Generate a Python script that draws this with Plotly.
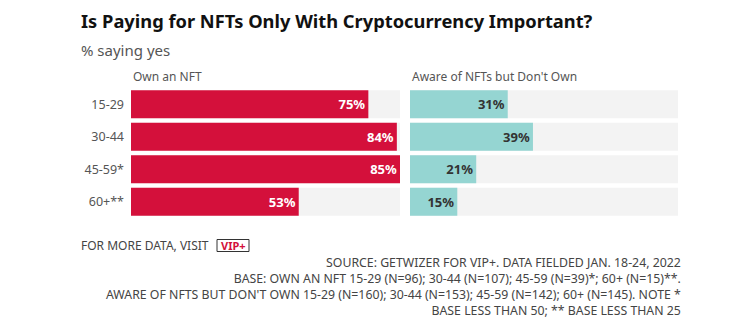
import plotly.graph_objects as go

categories = ["15-29", "30-44", "45-59*", "60+**"]
own_nft = [75, 84, 85, 53]
aware_not_own = [31, 39, 21, 15]
panel_titles = ["Own an NFT", "Aware of NFTs but Don't Own"]

W, H = 730, 326
FONT = "Noto Sans"
RED = "#D4103B"
TEAL = "#95D5D2"
TRACK = "#F3F3F3"

track_max = max(own_nft + aware_not_own)

def px_x(x):
    return x / W

def px_y(y):
    return 1 - y / H

fig = go.Figure()

panels = [
    (own_nft, RED, "white", "x", "y"),
    (aware_not_own, TEAL, "#333333", "x2", "y2"),
]

for vals, color, tcolor, xa, ya in panels:
    fig.add_trace(go.Bar(
        y=categories, x=[track_max] * len(categories), orientation="h",
        marker=dict(color=TRACK, line=dict(width=0)), xaxis=xa, yaxis=ya,
        hoverinfo="skip", showlegend=False,
    ))
    fig.add_trace(go.Bar(
        y=categories, x=vals, orientation="h",
        marker=dict(color=color, line=dict(width=0)), xaxis=xa, yaxis=ya,
        text=[f"{v}%" for v in vals], textposition="inside",
        insidetextanchor="end", textangle=0,
        textfont=dict(family=FONT, size=13, color=tcolor, weight="bold"),
        showlegend=False,
    ))

ydom = [px_y(218), px_y(88)]
axis_common = dict(showgrid=False, zeroline=False, showticklabels=False, range=[0, track_max], fixedrange=True)
fig.update_layout(
    width=W, height=H,
    margin=dict(l=0, r=0, t=0, b=0),
    paper_bgcolor="white", plot_bgcolor="white",
    barmode="overlay", bargap=0.14,
    font=dict(family=FONT, color="#555555"),
    xaxis=dict(domain=[px_x(131), px_x(400)], **axis_common),
    xaxis2=dict(domain=[px_x(410), px_x(678)], **axis_common),
    yaxis=dict(domain=ydom, autorange="reversed", showgrid=False, zeroline=False,
               ticks="", ticklabelstandoff=6, tickfont=dict(family=FONT, size=12.5, color="#555555")),
    yaxis2=dict(domain=ydom, autorange="reversed", anchor="x2", showgrid=False, zeroline=False,
                showticklabels=False),
)

annotations = [
    dict(text="<b>Is Paying for NFTs Only With Cryptocurrency Important?</b>", x=px_x(79), y=px_y(21),
         font=dict(size=18.3, color="#111111")),
    dict(text="% saying yes", x=px_x(79), y=px_y(50), font=dict(size=15, color="#555555")),
    dict(text=panel_titles[0], x=px_x(131), y=px_y(77), font=dict(size=12, color="#555555")),
    dict(text=panel_titles[1], x=px_x(410), y=px_y(77), font=dict(size=12, color="#555555")),
    dict(text="FOR MORE DATA, VISIT", x=px_x(79), y=px_y(245.5), font=dict(size=12, color="#444444")),
    dict(text="<b>VIP+</b>", x=px_x(233), y=px_y(245.5), xanchor="center",
         font=dict(size=11, color=RED)),
]
for a in annotations:
    a.setdefault("xanchor", "left")
    a.update(xref="paper", yref="paper", yanchor="middle", showarrow=False)
    fig.add_annotation(**a)

footer_lines = [
    "SOURCE: GETWIZER FOR VIP+. DATA FIELDED JAN. 18-24, 2022",
    "BASE: OWN AN NFT 15-29 (N=96); 30-44 (N=107); 45-59 (N=39)*; 60+ (N=15)**.",
    "AWARE OF NFTS BUT DON'T OWN 15-29 (N=160); 30-44 (N=153); 45-59 (N=142); 60+ (N=145). NOTE *",
    "BASE LESS THAN 50; ** BASE LESS THAN 25",
]
fig.add_annotation(text="<br>".join(footer_lines), x=px_x(683), y=px_y(286), xref="paper", yref="paper",
                   xanchor="right", yanchor="middle", align="right", showarrow=False,
                   font=dict(size=12.3, color="#444444"))

fig.add_shape(type="rect", xref="paper", yref="paper",
              x0=px_x(217), x1=px_x(249), y0=px_y(251.5), y1=px_y(239.5),
              line=dict(color="#333333", width=1))

fig.write_html("out.html")
